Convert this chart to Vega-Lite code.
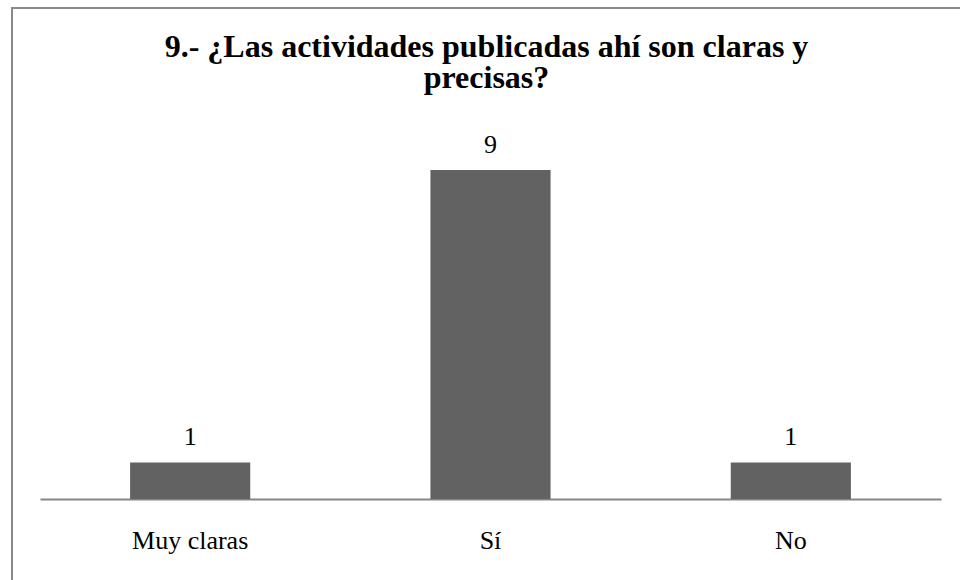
{
  "$schema": "https://vega.github.io/schema/vega-lite/v6.json",
  "autosize": {"type": "none"},
  "padding": {"left": 12, "top": 8, "right": -1, "bottom": -1},
  "width": 949,
  "height": 573,
  "background": "white",
  "config": {"view": {"stroke": "#898989", "strokeWidth": 2}, "font": "Liberation Serif"},
  "title": {
    "text": ["9.- ¿Las actividades publicadas ahí son claras y", "precisas?"],
    "font": "Liberation Serif",
    "fontSize": 32,
    "fontWeight": "bold",
    "color": "#000000",
    "anchor": "middle",
    "frame": "group",
    "baseline": "alphabetic",
    "offset": -49,
    "dy": 63,
    "lineHeight": 31
  },
  "data": {"values": [
    {"cat": "Muy claras", "n": 1},
    {"cat": "Sí", "n": 9},
    {"cat": "No", "n": 1}
  ]},
  "encoding": {
    "x": {
      "field": "cat",
      "type": "nominal",
      "sort": null,
      "scale": {"range": [28, 929], "paddingInner": 0.6, "paddingOuter": 0.3},
      "axis": {
        "title": null,
        "labelAngle": 0,
        "domainColor": "#868686",
        "domainWidth": 2,
        "ticks": false,
        "tickSize": 0,
        "labelPadding": 49,
        "labelBaseline": "alphabetic",
        "labelFont": "Liberation Serif",
        "labelFontSize": 26,
        "labelColor": "#000000",
        "offset": -82,
        "grid": false
      }
    }
  },
  "layer": [
    {
      "mark": {"type": "bar", "color": "#626262"},
      "encoding": {
        "y": {"field": "n", "type": "quantitative", "scale": {"domain": [0, 10], "range": [491, 125.4]}, "axis": null}
      }
    },
    {
      "mark": {"type": "text", "baseline": "alphabetic", "dy": -17, "fontSize": 26, "font": "Liberation Serif", "color": "#000000"},
      "encoding": {
        "y": {"field": "n", "type": "quantitative"},
        "text": {"field": "n", "type": "quantitative"}
      }
    }
  ]
}
